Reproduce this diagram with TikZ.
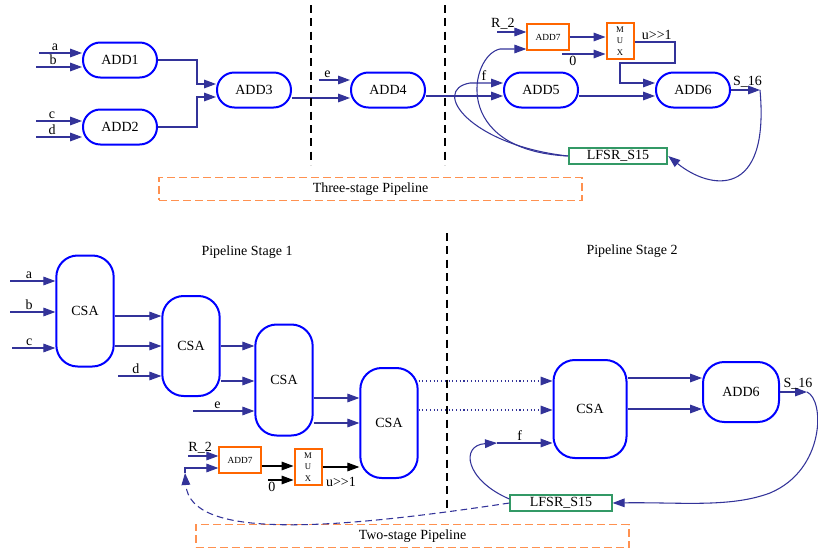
\documentclass[tikz,border=0pt]{standalone}
\usepackage{fontspec}
\setmainfont{Liberation Serif}
\usetikzlibrary{arrows.meta}
\definecolor{navy}{RGB}{51,51,153}
\definecolor{adderblue}{RGB}{0,0,255}
\definecolor{boxorange}{RGB}{255,102,0}
\definecolor{dashorange}{RGB}{255,145,80}
\definecolor{lfsrgreen}{RGB}{51,153,102}
\tikzset{
  >={Triangle[length=9pt,width=6.5pt]},
  every node/.style={font=\fontsize{10.5}{12}\selectfont},
  adder/.style={draw=adderblue, line width=1.5pt, rounded corners=13pt,
    minimum width=55.5pt, minimum height=26.25pt, inner sep=0pt},
  csa/.style={draw=adderblue, line width=1.5pt, rounded corners=16pt,
    minimum width=43pt, inner sep=0pt},
  addbox/.style={draw=boxorange, line width=1.5pt, inner sep=0pt,
    minimum width=31pt, minimum height=19.5pt, font=\fontsize{7}{8}\selectfont},
  muxbox/.style={draw=boxorange, line width=1.5pt, inner sep=0pt, align=center,
    minimum width=20.25pt, minimum height=26.5pt, font=\fontsize{6.5}{8.5}\selectfont},
  lfsr/.style={draw=lfsrgreen, line width=1.4pt, inner sep=0pt,
    minimum width=74pt, minimum height=12pt},
  stagebox/.style={draw=dashorange, line width=1.1pt, dash pattern=on 6pt off 3pt},
  stageline/.style={draw=black, line width=0.9pt, dash pattern=on 6pt off 4pt},
  wire/.style={->, draw=navy, line width=0.8pt},
  bwire/.style={->, draw=black, line width=0.8pt},
  sig/.style={inner sep=1.5pt},
}

\begin{document}
\begin{tikzpicture}[x=0.75pt, y=-0.75pt]
  \useasboundingbox (0,0) rectangle (818,553);

  % three-stage pipeline
  \node[adder] (add1) at (120,60) {ADD1};
  \node[adder] (add2) at (120,127) {ADD2};
  \node[adder] (add3) at (254,90) {ADD3};
  \node[adder] (add4) at (388,90) {ADD4};
  \node[adder] (add5) at (541,90) {ADD5};
  \node[adder] (add6) at (693,90) {ADD6};
  \node[addbox] (add7) at (548,37) {ADD7};
  \node[muxbox] (mux) at (620,41) {M\\U\\X};
  \node[lfsr] (lfsr) at (618,156) {LFSR\_S15};
  \node[stagebox, minimum width=317pt, minimum height=17pt] (three) at (370.5,189) {Three-stage Pipeline};

  \coordinate (ina) at (39,53);
  \coordinate (inb) at (36,67);
  \coordinate (inc) at (36,121);
  \coordinate (ind) at (36,137);
  \coordinate (ine) at (319,80);
  \coordinate (inr) at (497,32);
  \coordinate (inz) at (562,54);
  \coordinate (s16) at (760,90);

  \draw[wire] (ina) -- node[above, pos=0.37, sig] {a} (ina -| add1.west);
  \draw[wire] (inb) -- node[above, pos=0.37, sig] {b} (inb -| add1.west);
  \draw[wire] (inc) -- node[above, pos=0.35, sig] {c} (inc -| add2.west);
  \draw[wire] (ind) -- node[above, pos=0.35, sig] {d} (ind -| add2.west);
  \draw[wire] (add1.east) -| (197,84) -- (add3.west |- 0,84);
  \draw[wire] (add2.east) -| (197,97) -- (add3.west |- 0,97);
  \draw[wire] (add3.east |- 0,98) -- (add4.west |- 0,98);
  \draw[wire] (ine) -- node[above, pos=0.27, sig] {e} (ine -| add4.west);
  \draw[wire] (add4.east |- 0,96) -- (add5.west |- 0,96);
  \draw[wire] (add5.east |- 0,96) -- (add6.west |- 0,96);
  \draw[wire] (inr) -- node[above, pos=0.2, sig] {R\_2} (inr -| add7.west);
  \draw[wire] (add7.east |- 0,37) -- (mux.west |- 0,37);
  \draw[wire] (inz) -- node[below, pos=0.25, sig] {0} (inz -| mux.west);
  \draw[wire] (mux.east |- 0,42) -- node[above, pos=0.55, sig] {u>\kern0pt>1} (675,42)
    |- (620,63) |- (add6.west |- 0,83);
  \draw[wire] (add6.east) -- node[above, pos=0.57, sig] {S\_16} (s16);
  \draw[wire] (s16) .. controls (770,200) and (710,190) .. (lfsr.east);
  \draw[wire] (lfsr.west) .. controls (450,150) and (470,55) .. (500,49) -- (add7.west |- 0,49);
  \draw[wire] (lfsr.west) .. controls (470,145) and (430,90) .. (470,83)
    -- node[above, pos=0.42, sig] {f} (add5.west |- 0,83);

  \draw[stageline] (311,5) -- (311,165);
  \draw[stageline] (445,5) -- (445,165);

  % two-stage pipeline
  \node (stage1) at (247,252) {Pipeline Stage 1};
  \node (stage2) at (632,251) {Pipeline Stage 2};
  \node[csa, minimum height=83.25pt] (csa1) at (85,311) {CSA};
  \node[csa, minimum height=75pt] (csa2) at (191,346) {CSA};
  \node[csa, minimum height=83.25pt] (csa3) at (284,380) {CSA};
  \node[csa, minimum height=82.5pt] (csa4) at (389,423) {CSA};
  \node[csa, minimum width=54.75pt, minimum height=73.5pt] (csa5) at (590,409) {CSA};
  \node[csa, minimum width=57pt, minimum height=45pt] (add6b) at (741,392) {ADD6};
  \node[addbox] (add7b) at (240,460) {ADD7};
  \node[muxbox] (muxb) at (308,467) {M\\U\\X};
  \node[lfsr, minimum width=76pt, minimum height=12.5pt] (lfsrb) at (561,503) {LFSR\_S15};
  \node[stagebox, minimum width=325pt, minimum height=17pt] (two) at (412.5,536) {Two-stage Pipeline};

  \coordinate (ja) at (10,281);
  \coordinate (jb) at (10,312);
  \coordinate (jc) at (12,348);
  \coordinate (jd) at (118,376);
  \coordinate (je) at (193,411);
  \coordinate (jr) at (188,456);
  \coordinate (jz) at (268,480);
  \coordinate (jup) at (185,473);
  \coordinate (jf) at (497,443);
  \coordinate (t16) at (807,392);

  \draw[wire] (ja) -- node[above, pos=0.42, sig] {a} (ja -| csa1.west);
  \draw[wire] (jb) -- node[above, pos=0.42, sig] {b} (jb -| csa1.west);
  \draw[wire] (jc) -- node[above, pos=0.4, sig] {c} (jc -| csa1.west);
  \draw[wire] (csa1.east |- 0,316) -- (csa2.west |- 0,316);
  \draw[wire] (csa1.east |- 0,346) -- (csa2.west |- 0,346);
  \draw[wire] (jd) -- node[above, pos=0.41, sig] {d} (jd -| csa2.west);
  \draw[wire] (csa2.east |- 0,346) -- (csa3.west |- 0,346);
  \draw[wire] (csa2.east |- 0,381) -- (csa3.west |- 0,381);
  \draw[wire] (je) -- node[above, pos=0.4, sig] {e} (je -| csa3.west);
  \draw[wire] (csa3.east |- 0,398) -- (csa4.west |- 0,398);
  \draw[wire] (csa3.east |- 0,423) -- (csa4.west |- 0,423);
  \draw[wire] (jr) -- node[above, pos=0.4, sig] {R\_2} (jr -| add7b.west);
  \draw[wire] (jup) |- (add7b.west |- 0,468);
  \draw[wire, dash pattern=on 5pt off 3pt] (lfsrb.west) .. controls (330,530) and (190,540) .. (jup);
  \draw[bwire] (add7b.east |- 0,466) -- (muxb.west |- 0,466);
  \draw[bwire] (jz) -- node[below, pos=0.15, sig] {0} (jz -| muxb.west);
  \draw[bwire] (muxb.east) -- node[below=4pt, pos=0.5] {u>\kern0pt>1} (csa4.west |- muxb.east);
  \draw[wire, dotted] (csa4.east |- 0,381) -- (csa5.west |- 0,381);
  \draw[wire, dotted] (csa4.east |- 0,410) -- (csa5.west |- 0,410);
  \draw[wire] ([yshift=3pt]lfsrb.west) .. controls (465,480) and (460,445) .. (jf);
  \draw[wire] (jf) -- node[above, pos=0.41, sig] {f} (jf -| csa5.west);
  \draw[wire] (csa5.east |- 0,378) -- (add6b.west |- 0,378);
  \draw[wire] (csa5.east |- 0,409) -- (add6b.west |- 0,409);
  \draw[wire] (add6b.east) -- node[above, pos=0.67, sig] {S\_16} (t16);
  \draw[wire] (t16) .. controls (825,400) and (825,470) .. (770,493)
    .. controls (730,508) and (680,502) .. (lfsrb.east);

  \draw[stageline] (447,233) -- (447,508);
\end{tikzpicture}
\end{document}
